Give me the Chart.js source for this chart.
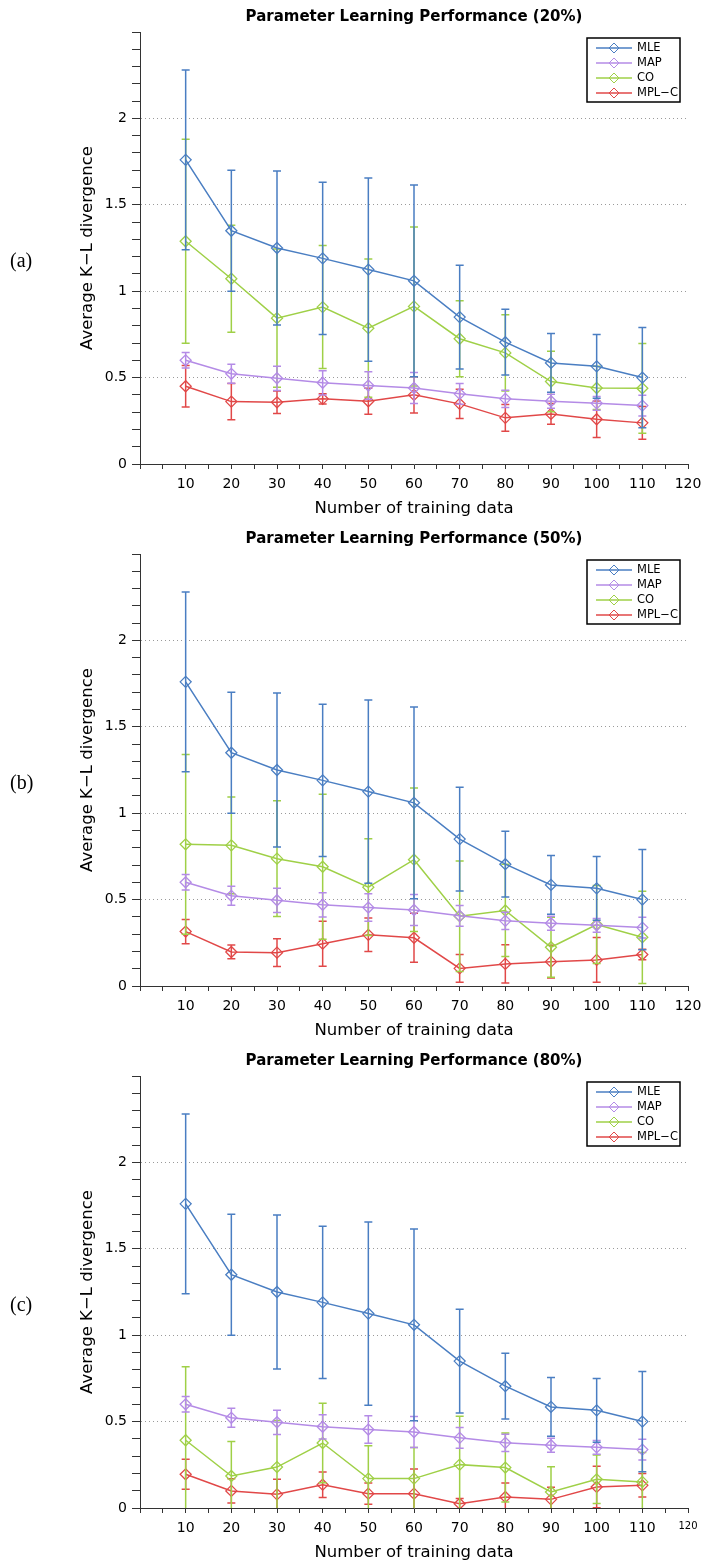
<!DOCTYPE html>
<html>
<head>
<meta charset="utf-8">
<title>Parameter Learning Performance</title>
<script src="https://cdn.jsdelivr.net/npm/chart.js@4.4.0/dist/chart.umd.min.js"></script>
<style>
  html, body { margin: 0; padding: 0; background: #fff; overflow: hidden; }
  .panel { position: absolute; left: 0; width: 704px; height: 522px; }
  .tag { position: absolute; left: 10px; top: 249px; font-family: "Liberation Serif", serif; font-size: 20px; color: #000; }
</style>
</head>
<body>
<div class="panel" style="top:0px"><canvas id="chartA" width="704" height="522"></canvas><div class="tag">(a)</div></div>
<div class="panel" style="top:522px"><canvas id="chartB" width="704" height="522"></canvas><div class="tag">(b)</div></div>
<div class="panel" style="top:1044px"><canvas id="chartC" width="704" height="522"></canvas><div class="tag">(c)</div></div>
<script>
// --- data ---
const xValues = [10, 20, 30, 40, 50, 60, 70, 80, 90, 100, 110];
const seriesNames = ['MLE', 'MAP', 'CO', 'MPL\u2212C'];
const seriesColors = ['#4a7ec2', '#b48be6', '#9fd047', '#e14848'];
const panelTitles = [
  'Parameter Learning Performance (20%)',
  'Parameter Learning Performance (50%)',
  'Parameter Learning Performance (80%)'
];

// MLE and MAP are the same in all three panels
const mleMean = [1.76, 1.35, 1.25, 1.19, 1.125, 1.06, 0.85, 0.705, 0.585, 0.565, 0.50];
const mleErr  = [0.52, 0.35, 0.445, 0.44, 0.53, 0.555, 0.30, 0.19, 0.17, 0.185, 0.29];
const mapMean = [0.60, 0.522, 0.496, 0.47, 0.454, 0.44, 0.406, 0.377, 0.363, 0.351, 0.338];
const mapErr  = [0.045, 0.055, 0.07, 0.07, 0.08, 0.09, 0.06, 0.05, 0.04, 0.04, 0.06];

// 20%
const co20Mean  = [1.289, 1.072, 0.844, 0.908, 0.786, 0.912, 0.725, 0.643, 0.477, 0.44, 0.438];
const co20Err   = [0.59, 0.31, 0.40, 0.356, 0.40, 0.46, 0.22, 0.22, 0.175, 0.125, 0.26];
const mpl20Mean = [0.45, 0.361, 0.357, 0.377, 0.363, 0.40, 0.348, 0.267, 0.29, 0.259, 0.238];
const mpl20Err  = [0.12, 0.105, 0.065, 0.03, 0.075, 0.105, 0.085, 0.077, 0.06, 0.105, 0.095];

// 50%
const co50Mean  = [0.82, 0.814, 0.737, 0.69, 0.572, 0.731, 0.404, 0.437, 0.224, 0.356, 0.282];
const co50Err   = [0.52, 0.28, 0.335, 0.42, 0.28, 0.415, 0.32, 0.267, 0.174, 0.226, 0.267];
const mpl50Mean = [0.315, 0.197, 0.193, 0.245, 0.296, 0.279, 0.102, 0.128, 0.141, 0.151, 0.182];
const mpl50Err  = [0.07, 0.04, 0.08, 0.13, 0.097, 0.142, 0.08, 0.11, 0.095, 0.13, 0.03];

// 80%
const co80Mean  = [0.392, 0.185, 0.237, 0.376, 0.17, 0.17, 0.251, 0.234, 0.093, 0.166, 0.151];
const co80Err   = [0.425, 0.20, 0.27, 0.23, 0.19, 0.18, 0.28, 0.20, 0.145, 0.14, 0.17];
const mpl80Mean = [0.195, 0.099, 0.079, 0.135, 0.083, 0.083, 0.025, 0.064, 0.05, 0.122, 0.131];
const mpl80Err  = [0.087, 0.07, 0.087, 0.074, 0.062, 0.143, 0.03, 0.08, 0.07, 0.12, 0.068];

Chart.defaults.font.family = '"DejaVu Sans", sans-serif';
Chart.defaults.color = '#000';

// --- error bars, drawn under each line (like matlab errorbar) ---
const errorBars = {
  id: 'errorBars',
  beforeDatasetDraw(chart, args) {
    const ds = chart.data.datasets[args.index];
    if (!ds.errors) return;
    const { ctx, chartArea, scales: { x, y } } = chart;
    ctx.save();
    ctx.beginPath();
    ctx.rect(chartArea.left, chartArea.top, chartArea.width, chartArea.height);
    ctx.clip();
    ctx.strokeStyle = ds.borderColor;
    ctx.lineWidth = 1.5;
    ds.data.forEach((p, i) => {
      const e = ds.errors[i];
      const px = x.getPixelForValue(p.x);
      const top = y.getPixelForValue(p.y + e);
      const bot = y.getPixelForValue(p.y - e);
      ctx.beginPath();
      ctx.moveTo(px, top); ctx.lineTo(px, bot);
      ctx.moveTo(px - 4, top); ctx.lineTo(px + 4, top);
      ctx.moveTo(px - 4, bot); ctx.lineTo(px + 4, bot);
      ctx.stroke();
    });
    ctx.restore();
  }
};

// --- boxed legend in the upper right ---
const boxLegend = {
  id: 'boxLegend',
  afterDraw(chart) {
    const { ctx, chartArea } = chart;
    const right = chartArea.right - 8, top = chartArea.top + 6;
    const w = 93, h = 64;
    const left = right - w;
    ctx.save();
    ctx.fillStyle = '#fff';
    ctx.fillRect(left, top, w, h);
    ctx.strokeStyle = '#000';
    ctx.lineWidth = 1.5;
    ctx.strokeRect(left, top, w, h);
    ctx.font = '11.5px "DejaVu Sans"';
    ctx.textBaseline = 'middle';
    chart.data.datasets.forEach((ds, i) => {
      const yy = top + 10 + i * 15;
      ctx.strokeStyle = ds.borderColor;
      ctx.lineWidth = 1.5;
      ctx.beginPath();
      ctx.moveTo(left + 9, yy); ctx.lineTo(left + 45, yy);
      ctx.stroke();
      ctx.lineWidth = 1;
      ctx.beginPath();
      ctx.moveTo(left + 27 - 5, yy); ctx.lineTo(left + 27, yy - 5);
      ctx.lineTo(left + 27 + 5, yy); ctx.lineTo(left + 27, yy + 5);
      ctx.closePath();
      ctx.stroke();
      ctx.fillStyle = '#000';
      ctx.fillText(ds.label, left + 50, yy + 0.5);
    });
    ctx.restore();
  }
};

function series(i, mean, err) {
  return {
    label: seriesNames[i],
    data: xValues.map((x, k) => ({ x: x, y: mean[k] })),
    errors: err,
    borderColor: seriesColors[i],
    backgroundColor: 'rgba(0,0,0,0)',
    borderWidth: 1.5,
    pointStyle: 'rectRot',
    pointRadius: 5.5,
    pointBorderWidth: 1.3,
    pointBorderColor: seriesColors[i],
    pointBackgroundColor: 'rgba(0,0,0,0)',
    tension: 0
  };
}

function isHalf(v) {
  return Math.abs(v * 2 - Math.round(v * 2)) < 1e-6;
}

function makePanel(id, title, coMean, coErr, mplMean, mplErr, smallLast) {
  const ctx = document.getElementById(id).getContext('2d');
  return new Chart(ctx, {
    type: 'line',
    data: {
      datasets: [
        series(0, mleMean, mleErr),
        series(1, mapMean, mapErr),
        series(2, coMean, coErr),
        series(3, mplMean, mplErr)
      ]
    },
    options: {
      responsive: false,
      animation: false,
      layout: { padding: { left: 0, right: 16, top: 0, bottom: 0 } },
      plugins: {
        legend: { display: false },
        tooltip: { enabled: false },
        title: {
          display: true,
          text: title,
          fullSize: false,
          font: { size: 15, weight: 'bold' },
          padding: { top: 8, bottom: 6 }
        }
      },
      scales: {
        x: {
          type: 'linear',
          min: 0,
          max: 120,
          afterFit: s => { s.height = 58; s.paddingLeft = 0; s.paddingRight = 16; },
          border: { color: '#333', width: 1 },
          grid: { drawOnChartArea: false, tickColor: '#333', tickLength: 5 },
          ticks: {
            stepSize: 5,
            autoSkip: false,
            maxRotation: 0,
            padding: 7,
            font: c => ({ size: (smallLast && c.tick && c.tick.value === 120) ? 10 : 14 }),
            callback: v => (v > 0 && v % 10 === 0) ? String(v) : ''
          },
          title: {
            display: true,
            text: 'Number of training data',
            font: { size: 16.5 },
            padding: { top: 0, bottom: 3 }
          }
        },
        y: {
          type: 'linear',
          min: 0,
          max: 2.5,
          afterFit: s => { s.width = 140; },
          border: { color: '#333', width: 1, dash: [1, 3] },
          grid: {
            color: c => {
              const v = c.tick ? c.tick.value : 0;
              return (v > 0.01 && v < 2.4 && isHalf(v)) ? '#9a9a9a' : 'rgba(0,0,0,0)';
            },
            tickColor: '#333',
            tickLength: 8
          },
          ticks: {
            stepSize: 0.1,
            autoSkip: false,
            padding: 5,
            font: { size: 14 },
            callback: v => (v < 2.4 && isHalf(v)) ? String(Math.round(v * 10) / 10) : ''
          },
          title: {
            display: true,
            text: 'Average K\u2212L divergence',
            font: { size: 16.5 },
            padding: { top: 78, bottom: 0 }
          }
        }
      }
    },
    plugins: [errorBars, boxLegend]
  });
}

makePanel('chartA', panelTitles[0], co20Mean, co20Err, mpl20Mean, mpl20Err, false);
makePanel('chartB', panelTitles[1], co50Mean, co50Err, mpl50Mean, mpl50Err, false);
makePanel('chartC', panelTitles[2], co80Mean, co80Err, mpl80Mean, mpl80Err, true);
</script>
</body>
</html>
